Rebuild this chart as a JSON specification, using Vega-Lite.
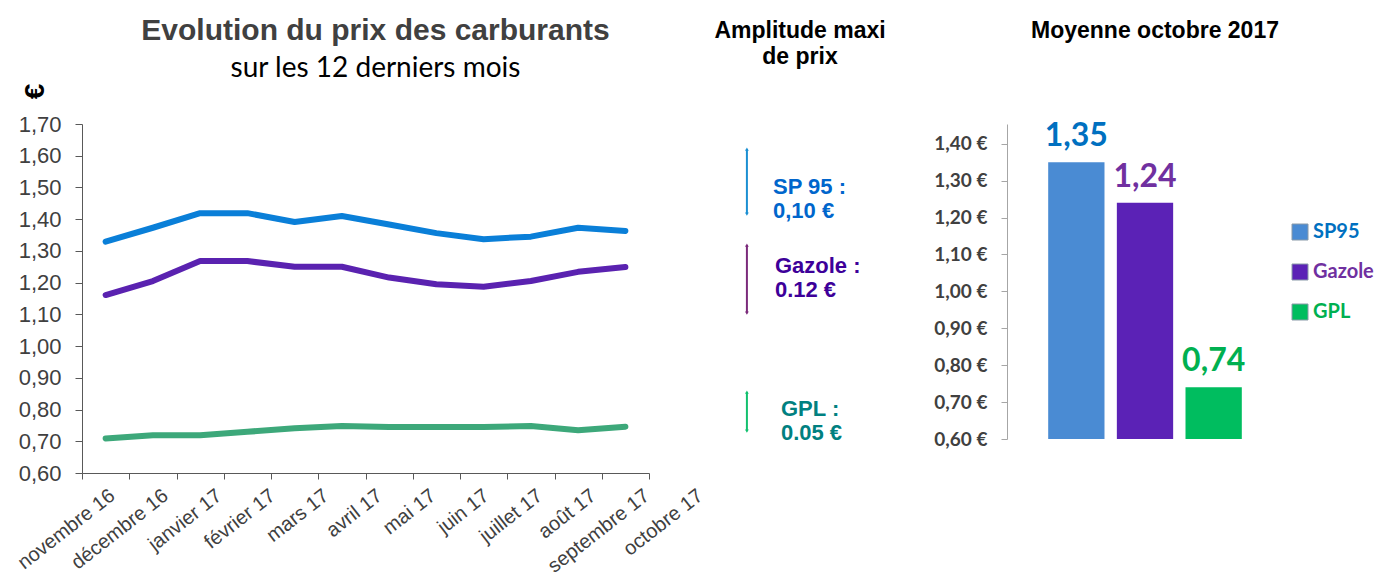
{
  "$schema": "https://vega.github.io/schema/vega-lite/v6.json",
  "background": "white",
  "padding": {"left": 13, "top": 16, "right": 0, "bottom": 0},
  "autosize": {"type": "pad"},
  "bounds": "flush",
  "spacing": 20,
  "config": {
    "view": {"stroke": null},
    "font": "Liberation Sans",
    "locale": {"number": {"decimal": ",", "thousands": " ", "grouping": [3], "currency": ["", " €"]}},
    "axis": {"domainColor": "#595959", "tickColor": "#595959", "labelColor": "#404040", "grid": false}
  },
  "resolve": {"scale": {"color": "independent", "fill": "independent"}, "legend": {"color": "independent"}},
  "hconcat": [
    {
      "width": 567,
      "height": 349,
      "title": {"text": "Evolution du prix des carburants", "subtitle": "sur les 12 derniers mois", "fontSize": 30, "font": "Liberation Sans", "fontWeight": "bold", "color": "#404040", "subtitleFont": "Lato", "subtitleFontSize": 28, "subtitleColor": "#000000", "subtitlePadding": 9, "anchor": "middle", "frame": "group", "dx": 10, "offset": 0},
      "data": {"values": [
        {"mois": "novembre 16", "carburant": "SP95", "prix": 1.329},
        {"mois": "décembre 16", "carburant": "SP95", "prix": 1.373},
        {"mois": "janvier 17", "carburant": "SP95", "prix": 1.419},
        {"mois": "février 17", "carburant": "SP95", "prix": 1.419},
        {"mois": "mars 17", "carburant": "SP95", "prix": 1.391},
        {"mois": "avril 17", "carburant": "SP95", "prix": 1.410},
        {"mois": "mai 17", "carburant": "SP95", "prix": 1.383},
        {"mois": "juin 17", "carburant": "SP95", "prix": 1.356},
        {"mois": "juillet 17", "carburant": "SP95", "prix": 1.337},
        {"mois": "août 17", "carburant": "SP95", "prix": 1.345},
        {"mois": "septembre 17", "carburant": "SP95", "prix": 1.373},
        {"mois": "octobre 17", "carburant": "SP95", "prix": 1.363},
        {"mois": "novembre 16", "carburant": "Gazole", "prix": 1.161},
        {"mois": "décembre 16", "carburant": "Gazole", "prix": 1.205},
        {"mois": "janvier 17", "carburant": "Gazole", "prix": 1.268},
        {"mois": "février 17", "carburant": "Gazole", "prix": 1.268},
        {"mois": "mars 17", "carburant": "Gazole", "prix": 1.250},
        {"mois": "avril 17", "carburant": "Gazole", "prix": 1.250},
        {"mois": "mai 17", "carburant": "Gazole", "prix": 1.216},
        {"mois": "juin 17", "carburant": "Gazole", "prix": 1.195},
        {"mois": "juillet 17", "carburant": "Gazole", "prix": 1.187},
        {"mois": "août 17", "carburant": "Gazole", "prix": 1.205},
        {"mois": "septembre 17", "carburant": "Gazole", "prix": 1.234},
        {"mois": "octobre 17", "carburant": "Gazole", "prix": 1.249},
        {"mois": "novembre 16", "carburant": "GPL", "prix": 0.709},
        {"mois": "décembre 16", "carburant": "GPL", "prix": 0.719},
        {"mois": "janvier 17", "carburant": "GPL", "prix": 0.719},
        {"mois": "février 17", "carburant": "GPL", "prix": 0.730},
        {"mois": "mars 17", "carburant": "GPL", "prix": 0.741},
        {"mois": "avril 17", "carburant": "GPL", "prix": 0.748},
        {"mois": "mai 17", "carburant": "GPL", "prix": 0.745},
        {"mois": "juin 17", "carburant": "GPL", "prix": 0.745},
        {"mois": "juillet 17", "carburant": "GPL", "prix": 0.745},
        {"mois": "août 17", "carburant": "GPL", "prix": 0.748},
        {"mois": "septembre 17", "carburant": "GPL", "prix": 0.735},
        {"mois": "octobre 17", "carburant": "GPL", "prix": 0.746}
      ]},
      "layer": [
        {
          "mark": {"type": "line", "strokeWidth": 6, "strokeCap": "round", "strokeJoin": "round"},
          "encoding": {
            "x": {"field": "mois", "type": "ordinal", "sort": ["novembre 16", "décembre 16", "janvier 17", "février 17", "mars 17", "avril 17", "mai 17", "juin 17", "juillet 17", "août 17", "septembre 17", "octobre 17"],
              "scale": {"type": "band", "paddingInner": 0, "paddingOuter": 0},
              "axis": {"orient": "bottom", "title": null, "labels": false, "tickBand": "extent", "tickSize": 6}},
            "y": {"field": "prix", "type": "quantitative", "scale": {"domain": [0.6, 1.7], "zero": false, "nice": false},
              "axis": {"values": [0.6, 0.7, 0.8, 0.9, 1.0, 1.1, 1.2, 1.3, 1.4, 1.5, 1.6, 1.7], "format": ".2f", "labelFontSize": 22, "labelOverlap": false, "labelFlush": false, "tickSize": 7, "labelPadding": 14,
                "title": "€", "titleFontSize": 28, "titleFontWeight": "bold", "titleColor": "#000000", "titleAngle": -90, "titleX": -47, "titleY": -33, "titleAlign": "center", "titleBaseline": "middle"}},
            "color": {"field": "carburant", "type": "nominal", "scale": {"domain": ["SP95", "Gazole", "GPL"], "range": ["#0A7FD8", "#5A22B0", "#3DA87A"]}, "legend": null}
          }
        },
        {
          "mark": {"type": "point", "opacity": 0},
          "encoding": {
            "x": {"field": "mois", "type": "ordinal", "sort": ["novembre 16", "décembre 16", "janvier 17", "février 17", "mars 17", "avril 17", "mai 17", "juin 17", "juillet 17", "août 17", "septembre 17", "octobre 17"],
              "scale": {"type": "point", "range": [30, 618], "padding": 0},
              "axis": {"orient": "bottom", "title": null, "domain": false, "ticks": false, "labelAngle": -38, "labelAlign": "right", "labelBaseline": "middle", "labelFontSize": 20, "labelPadding": 20, "labelOverlap": false}},
            "y": {"field": "prix", "type": "quantitative",
              "axis": {"values": [0.6, 0.7, 0.8, 0.9, 1.0, 1.1, 1.2, 1.3, 1.4, 1.5, 1.6, 1.7], "format": ".2f", "labelFontSize": 22, "labelOverlap": false, "labelFlush": false, "tickSize": 7, "labelPadding": 14,
                "title": "€", "titleFontSize": 28, "titleFontWeight": "bold", "titleColor": "#000000", "titleAngle": -90, "titleX": -47, "titleY": -33, "titleAlign": "center", "titleBaseline": "middle"}}
          }
        }
      ],
      "resolve": {"scale": {"x": "independent"}, "axis": {"x": "independent"}}
    },
    {
      "width": 318,
      "height": 349,
      "title": {"text": ["Amplitude  maxi", "de prix"], "fontSize": 23, "font": "Liberation Sans", "fontWeight": "bold", "color": "#000000", "anchor": "middle", "frame": "group", "dx": -28, "offset": 55, "lineHeight": 26},
      "data": {"values": [
        {"carburant": "SP95", "libelle": "SP 95 :\n0,10 €"},
        {"carburant": "Gazole", "libelle": "Gazole :\n0.12  €"},
        {"carburant": "GPL", "libelle": "GPL :\n0.05 €"}
      ]},
      "layer": [
        {"transform": [{"filter": "datum.carburant === 'SP95'"}], "mark": {"type": "rule", "color": "#1B8FD2", "strokeWidth": 2},
          "encoding": {"x": {"datum": 24.5, "type": "quantitative", "scale": {"domain": [0, 100], "nice": false}, "axis": null}, "y": {"datum": 92.8, "type": "quantitative", "scale": {"domain": [0, 100], "nice": false}, "axis": null}, "y2": {"datum": 74.2}}},
        {"transform": [{"filter": "datum.carburant === 'SP95'"}], "mark": {"type": "point", "shape": "triangle-up", "filled": true, "size": 14, "color": "#1B8FD2", "opacity": 1},
          "encoding": {"x": {"datum": 24.5, "type": "quantitative"}, "y": {"datum": 92.8, "type": "quantitative"}}},
        {"transform": [{"filter": "datum.carburant === 'SP95'"}], "mark": {"type": "point", "shape": "triangle-down", "filled": true, "size": 14, "color": "#1B8FD2", "opacity": 1},
          "encoding": {"x": {"datum": 24.5, "type": "quantitative"}, "y": {"datum": 74.2, "type": "quantitative"}}},
        {"transform": [{"filter": "datum.carburant === 'SP95'"}], "mark": {"type": "text", "align": "left", "baseline": "middle", "lineBreak": "\n", "lineHeight": 24, "fontSize": 22, "fontWeight": 900, "color": "#0066CC"},
          "encoding": {"x": {"datum": 32.7, "type": "quantitative"}, "y": {"datum": 81.9, "type": "quantitative"}, "text": {"field": "libelle"}}},
        {"transform": [{"filter": "datum.carburant === 'Gazole'"}], "mark": {"type": "rule", "color": "#7B2A7B", "strokeWidth": 2},
          "encoding": {"x": {"datum": 24.5, "type": "quantitative"}, "y": {"datum": 65.3, "type": "quantitative"}, "y2": {"datum": 45.8}}},
        {"transform": [{"filter": "datum.carburant === 'Gazole'"}], "mark": {"type": "point", "shape": "triangle-up", "filled": true, "size": 14, "color": "#7B2A7B", "opacity": 1},
          "encoding": {"x": {"datum": 24.5, "type": "quantitative"}, "y": {"datum": 65.3, "type": "quantitative"}}},
        {"transform": [{"filter": "datum.carburant === 'Gazole'"}], "mark": {"type": "point", "shape": "triangle-down", "filled": true, "size": 14, "color": "#7B2A7B", "opacity": 1},
          "encoding": {"x": {"datum": 24.5, "type": "quantitative"}, "y": {"datum": 45.8, "type": "quantitative"}}},
        {"transform": [{"filter": "datum.carburant === 'Gazole'"}], "mark": {"type": "text", "align": "left", "baseline": "middle", "lineBreak": "\n", "lineHeight": 24, "fontSize": 22, "fontWeight": 900, "color": "#3D0099"},
          "encoding": {"x": {"datum": 33.3, "type": "quantitative"}, "y": {"datum": 59.3, "type": "quantitative"}, "text": {"field": "libelle"}}},
        {"transform": [{"filter": "datum.carburant === 'GPL'"}], "mark": {"type": "rule", "color": "#12C06E", "strokeWidth": 2},
          "encoding": {"x": {"datum": 24.5, "type": "quantitative"}, "y": {"datum": 23.2, "type": "quantitative"}, "y2": {"datum": 12.0}}},
        {"transform": [{"filter": "datum.carburant === 'GPL'"}], "mark": {"type": "point", "shape": "triangle-up", "filled": true, "size": 14, "color": "#12C06E", "opacity": 1},
          "encoding": {"x": {"datum": 24.5, "type": "quantitative"}, "y": {"datum": 23.2, "type": "quantitative"}}},
        {"transform": [{"filter": "datum.carburant === 'GPL'"}], "mark": {"type": "point", "shape": "triangle-down", "filled": true, "size": 14, "color": "#12C06E", "opacity": 1},
          "encoding": {"x": {"datum": 24.5, "type": "quantitative"}, "y": {"datum": 12.0, "type": "quantitative"}}},
        {"transform": [{"filter": "datum.carburant === 'GPL'"}], "mark": {"type": "text", "align": "left", "baseline": "middle", "lineBreak": "\n", "lineHeight": 24, "fontSize": 22, "fontWeight": 900, "color": "#008080"},
          "encoding": {"x": {"datum": 35.2, "type": "quantitative"}, "y": {"datum": 18.3, "type": "quantitative"}, "text": {"field": "libelle"}}}
      ]
    },
    {
      "width": 276,
      "height": 315,
      "title": {"text": "Moyenne octobre 2017", "fontSize": 23, "font": "Liberation Sans", "fontWeight": "bold", "color": "#000000", "anchor": "middle", "frame": "group", "dx": 10, "offset": 77},
      "data": {"values": [
        {"carburant": "SP95", "prix": 1.35},
        {"carburant": "Gazole", "prix": 1.24},
        {"carburant": "GPL", "prix": 0.74}
      ]},
      "encoding": {
        "x": {"field": "carburant", "type": "nominal", "sort": ["SP95", "Gazole", "GPL"], "scale": {"paddingInner": 0.18, "paddingOuter": 0.6}, "axis": null},
        "y": {"field": "prix", "type": "quantitative", "scale": {"domain": [0.6, 1.4535], "zero": false, "nice": false},
          "axis": {"values": [0.6, 0.7, 0.8, 0.9, 1.0, 1.1, 1.2, 1.3, 1.4], "format": "$.2f", "labelFont": "Lato", "labelFontWeight": "bold", "labelFontSize": 19, "labelColor": "#404040", "labelOverlap": false, "tickSize": 6, "labelPadding": 14, "title": null, "domainColor": "#A6A6A6", "tickColor": "#A6A6A6"}}
      },
      "layer": [
        {
          "mark": {"type": "bar"},
          "encoding": {
            "y2": {"datum": 0.6},
            "color": {"field": "carburant", "type": "nominal", "sort": ["SP95", "Gazole", "GPL"], "scale": {"domain": ["SP95", "Gazole", "GPL"], "range": ["#4A8BD3", "#5B22B6", "#00BD5F"]},
              "legend": {"title": null, "orient": "none", "legendX": 283, "legendY": 98, "symbolType": "square", "symbolSize": 256, "symbolStrokeWidth": 1, "symbolStrokeColor": "#8a9aa8", "labelFont": "Lato", "labelFontWeight": "bold", "labelFontSize": 20, "rowPadding": 20, "labelOffset": 3,
                "encode": {"labels": {"update": {"fill": {"signal": "datum.value === 'SP95' ? '#0070C0' : datum.value === 'Gazole' ? '#7030A0' : '#00B050'"}}}}}}
          }
        },
        {
          "mark": {"type": "text", "baseline": "alphabetic", "dy": -16, "font": "Lato", "fontWeight": "bold", "fontSize": 32},
          "encoding": {
            "text": {"field": "prix", "format": ".2f"},
            "fill": {"field": "carburant", "type": "nominal", "scale": {"domain": ["SP95", "Gazole", "GPL"], "range": ["#0070C0", "#7030A0", "#00B050"]}, "legend": null}
          }
        }
      ]
    }
  ]
}
